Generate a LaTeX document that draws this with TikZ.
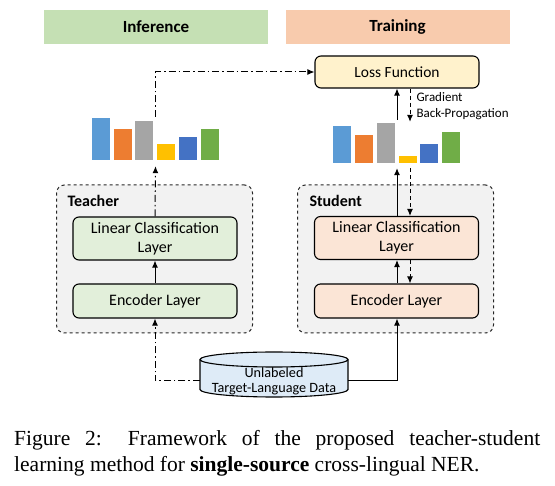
\documentclass[tikz,border=0pt]{standalone}
\usepackage{fontspec}
\setmainfont{Liberation Serif}
\newfontfamily\calib{Carlito}
\usetikzlibrary{shapes.geometric,arrows.meta,positioning,calc}
\definecolor{infgreen}{HTML}{C5E0B4}
\definecolor{trnpeach}{HTML}{F8CBAD}
\definecolor{lossyellow}{HTML}{FFF2CC}
\definecolor{tgreen}{HTML}{E2EFDA}
\definecolor{speach}{HTML}{FBE5D6}
\definecolor{grpgray}{HTML}{F2F2F2}
\definecolor{dbblue}{HTML}{DEEBF7}
\definecolor{barA}{HTML}{5B9BD5}
\definecolor{barB}{HTML}{ED7D31}
\definecolor{barC}{HTML}{A5A5A5}
\definecolor{barD}{HTML}{FFC000}
\definecolor{barE}{HTML}{4472C4}
\definecolor{barF}{HTML}{70AD47}
\tikzset{
  phase/.style={rectangle, minimum width=224pt, minimum height=34pt,
                font=\calib\bfseries\fontsize{17}{20}\selectfont},
  box/.style={rectangle, rounded corners=6pt, draw=black, line width=1.1pt,
              minimum width=164pt, align=center,
              font=\calib\fontsize{16}{19}\selectfont},
  tbox/.style={box, fill=tgreen},
  sbox/.style={box, fill=speach},
  group/.style={rectangle, rounded corners=8pt, draw=black!85, dashed,
                line width=1pt, fill=grpgray,
                minimum width=196pt, minimum height=148pt},
  grouplbl/.style={font=\calib\bfseries\fontsize{16}{18}\selectfont, anchor=west},
  bars/.style={rectangle, inner sep=0pt, minimum width=127pt, minimum height=40pt},
  arr/.style={-{Latex[length=7pt,width=6pt]}, line width=1pt},
  dd/.style={dash pattern=on 7pt off 3pt on 1.5pt off 3pt},
  bp/.style={dash pattern=on 4pt off 3pt}
}

\begin{document}
\begin{tikzpicture}[x=1pt, y=-1pt]
  \useasboundingbox (0,0) rectangle (555,486);

  % Phase headers
  \node[phase, fill=infgreen] (inf)   at (156,27)   {Inference};
  \node[phase, fill=trnpeach] (train) at (397.5,27) {Training};

  % Loss
  \node[box, fill=lossyellow, minimum height=32pt, font=\calib\fontsize{15.5}{18}\selectfont]
       (loss) at (397,72) {Loss Function};

  % Teacher / Student groups
  \node[group] (teacher) at (154.5,259) {};
  \node[group] (student) at (395.5,259) {};
  \node[grouplbl] (tlbl) at (64,201) {Teacher};
  \node[grouplbl] (slbl) at (306,201) {Student};

  \node[tbox, minimum height=43pt] (tcls) at (155,238.5) {Linear Classification\\Layer};
  \node[tbox, minimum height=34pt] (tenc) at (155,301)   {Encoder Layer};
  \node[sbox, minimum height=43pt] (scls) at (396.5,238) {Linear Classification\\Layer};
  \node[sbox, minimum height=34pt] (senc) at (396.5,301) {Encoder Layer};

  % Output distributions
  \node[bars] (tout) at (155.5,140) {};
  \node[bars] (sout) at (396.5,143) {};
  \foreach \dx/\h/\c in {0/42/barA,22/31/barB,43/39/barC,65/16/barD,87/23/barE,109/31/barF}{
    \fill[\c] ($(tout.south west)+(\dx,0)$) rectangle ++(18,-\h);
  }
  \foreach \dx/\h/\c in {0/37/barA,22/28/barB,44/40/barC,66/7/barD,87/19/barE,109/31/barF}{
    \fill[\c] ($(sout.south west)+(\dx,0)$) rectangle ++(18,-\h);
  }

  % Data (cylinder drawn by hand, text node on top)
  \draw[line width=1.1pt, fill=dbblue] (200,359.5) -- (200,389.5)
       arc[start angle=180, end angle=360, x radius=74pt, y radius=7.5pt]
       -- (348,359.5)
       arc[start angle=0, end angle=180, x radius=74pt, y radius=7.5pt] -- cycle;
  \draw[line width=1.1pt] (200,359.5)
       arc[start angle=180, end angle=360, x radius=74pt, y radius=7.5pt];
  \node[minimum width=148pt, inner sep=0pt, align=center,
        font=\calib\fontsize{14.2}{15}\selectfont] (data)
        at (274,381.5) {Unlabeled\\Target-Language Data};

  \coordinate (up) at (397,0);
  \coordinate (dn) at (410,0);

  % Teacher flow
  \draw[arr, dd] ([yshift=0.5pt]data.west) -| (tenc.south);
  \draw[arr] (tenc.north) -- (tcls.south);
  \draw[arr, dd] (tcls.north) -- ([yshift=-6pt]tout.south);
  \draw[arr, dd, shorten <=3pt] (tout.north) |- (loss.west);

  % Student flow
  \draw[arr] ([yshift=0.5pt]data.east) -| (senc.south -| up);
  \draw[arr] (senc.north -| up) -- (scls.south -| up);
  \draw[arr] (scls.north -| up) -- ([yshift=-5pt]sout.south -| up);
  \draw[arr] ([yshift=3pt]sout.north -| up) -- (loss.south -| up);

  % Back-propagation
  \draw[arr, bp] (loss.south -| dn) -- ([yshift=1pt]sout.north -| dn);
  \draw[arr, bp] ([yshift=-5pt]sout.south -| dn) -- (scls.north -| dn);
  \draw[arr, bp] (scls.south -| dn) -- (senc.north -| dn);
  \node[anchor=west, align=left, font=\calib\fontsize{13}{16}\selectfont] (grad)
       at (413,106) {Gradient\\Back-Propagation};

  % Caption
  \node[anchor=north west, inner sep=0pt, text width=526pt, align=justify,
        font=\fontsize{21.5}{26.5}\selectfont] (cap) at (14,430)
       {Figure 2: Framework of the proposed teacher-student\linebreak learning method for \textbf{single-source} cross-lingual NER.};
\end{tikzpicture}
\end{document}
